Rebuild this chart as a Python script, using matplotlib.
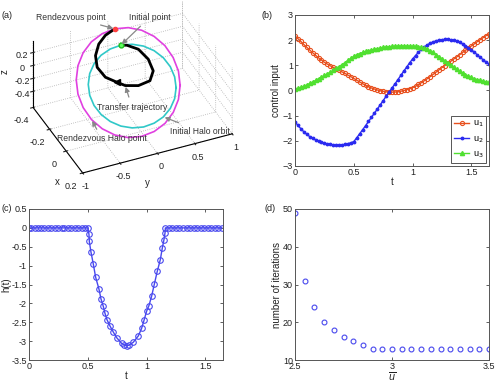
import matplotlib
matplotlib.use("Agg")
import matplotlib.pyplot as plt
from mpl_toolkits.mplot3d import proj3d

plt.rcParams['font.family'] = ['Liberation Sans', 'DejaVu Sans']
plt.rcParams['font.size'] = 7
plt.rcParams['grid.linestyle'] = ':'
plt.rcParams['grid.color'] = '#b0b0b0'
plt.rcParams['grid.linewidth'] = 0.6

# ---- (a) orbits in 3D (x, y, z) ----
# rendezvous halo orbit (magenta)
rdv_x = [-0.115, -0.057, -0.004, 0.041, 0.074, 0.094, 0.099, 0.089, 0.064, 0.027, -0.022, -0.077,
         -0.135, -0.193, -0.246, -0.291, -0.324, -0.344, -0.349, -0.339, -0.314, -0.277, -0.229,
         -0.173, -0.115]
rdv_y = [0.652, 0.565, 0.437, 0.277, 0.096, -0.094, -0.280, -0.448, -0.588, -0.691, -0.748, -0.757,
         -0.716, -0.629, -0.501, -0.341, -0.160, 0.030, 0.216, 0.384, 0.524, 0.627, 0.684,
         0.693, 0.652]
rdv_z = [-0.326, -0.421, -0.493, -0.538, -0.553, -0.537, -0.491, -0.417, -0.321, -0.210, -0.091, 0.027,
         0.138, 0.233, 0.305, 0.350, 0.365, 0.349, 0.303, 0.229, 0.133, 0.022, -0.097,
         -0.215, -0.326]

# initial halo orbit (cyan)
ini_x = [-0.113, -0.059, -0.010, 0.032, 0.063, 0.082, 0.087, 0.078, 0.056, 0.021, -0.023, -0.073,
         -0.127, -0.181, -0.230, -0.272, -0.303, -0.322, -0.327, -0.318, -0.296, -0.261, -0.217,
         -0.167, -0.113]
ini_y = [0.596, 0.517, 0.404, 0.265, 0.108, -0.055, -0.213, -0.355, -0.472, -0.556, -0.601, -0.604,
         -0.564, -0.485, -0.372, -0.233, -0.076, 0.087, 0.245, 0.387, 0.504, 0.588, 0.633,
         0.636, 0.596]
ini_z = [-0.343, -0.396, -0.432, -0.449, -0.446, -0.424, -0.382, -0.326, -0.257, -0.182, -0.105, -0.031,
         0.035, 0.088, 0.124, 0.141, 0.138, 0.116, 0.074, 0.018, -0.051, -0.126, -0.204,
         -0.278, -0.343]

# transfer trajectory (black), initial point -> rendezvous point
tr_x = [-0.322, -0.320, -0.290, -0.240, -0.190, -0.150, -0.130, -0.130, -0.140, -0.170,
        -0.210, -0.260, -0.300, -0.330, -0.344]
tr_y = [0.087, 0.166, 0.287, 0.364, 0.375, 0.287, 0.110, -0.066, -0.165, -0.287,
        -0.353, -0.320, -0.232, -0.110, 0.030]
tr_z = [0.116, 0.095, 0.047, -0.046, -0.145, -0.204, -0.192, -0.138, -0.074, -0.010,
        0.096, 0.182, 0.267, 0.315, 0.349]

# ---- (b) control inputs ----
t_b = [0.0, 0.025, 0.05, 0.075, 0.1, 0.125, 0.15, 0.175, 0.2, 0.225, 0.25, 0.275,
       0.3, 0.325, 0.35, 0.375, 0.4, 0.425, 0.45, 0.475, 0.5, 0.525, 0.55, 0.575,
       0.6, 0.625, 0.65, 0.675, 0.7, 0.725, 0.75, 0.775, 0.8, 0.825, 0.85, 0.875,
       0.9, 0.925, 0.95, 0.975, 1.0, 1.025, 1.05, 1.075, 1.1, 1.125, 1.15, 1.175,
       1.2, 1.225, 1.25, 1.275, 1.3, 1.325, 1.35, 1.375, 1.4, 1.425, 1.45, 1.475,
       1.5, 1.525, 1.55, 1.575, 1.6, 1.625, 1.65]
u1 = [2.17, 2.06, 1.95, 1.83, 1.72, 1.61, 1.50, 1.40, 1.30, 1.21, 1.12, 1.05,
      0.98, 0.92, 0.86, 0.80, 0.74, 0.68, 0.61, 0.55, 0.48, 0.41, 0.34, 0.27,
      0.21, 0.15, 0.10, 0.06, 0.02, -0.01, -0.03, -0.05, -0.06, -0.065, -0.06, -0.05,
      -0.03, 0.00, 0.03, 0.07, 0.11, 0.17, 0.24, 0.31, 0.39, 0.47, 0.55, 0.64,
      0.73, 0.82, 0.91, 0.99, 1.08, 1.16, 1.25, 1.33, 1.42, 1.51, 1.60, 1.68,
      1.77, 1.85, 1.94, 2.02, 2.10, 2.18, 2.25]
u2 = [-1.24, -1.39, -1.52, -1.64, -1.74, -1.83, -1.90, -1.96, -2.01, -2.05, -2.09, -2.12,
      -2.14, -2.16, -2.17, -2.17, -2.16, -2.14, -2.11, -2.08, -2.03, -1.88, -1.72, -1.56,
      -1.40, -1.23, -1.07, -0.90, -0.74, -0.57, -0.40, -0.23, -0.07, 0.10, 0.26, 0.43,
      0.60, 0.77, 0.93, 1.10, 1.25, 1.39, 1.52, 1.63, 1.73, 1.81, 1.88, 1.93,
      1.97, 2.00, 2.02, 2.03, 2.03, 2.01, 1.99, 1.95, 1.91, 1.85, 1.78, 1.70,
      1.61, 1.52, 1.42, 1.32, 1.22, 1.13, 1.05]
u3 = [0.05, 0.08, 0.12, 0.17, 0.22, 0.28, 0.34, 0.40, 0.47, 0.53, 0.60, 0.66,
      0.73, 0.80, 0.88, 0.95, 1.03, 1.11, 1.20, 1.28, 1.36, 1.42, 1.47, 1.51,
      1.55, 1.58, 1.61, 1.64, 1.66, 1.69, 1.71, 1.73, 1.74, 1.75, 1.76, 1.77,
      1.77, 1.77, 1.77, 1.77, 1.76, 1.75, 1.73, 1.71, 1.68, 1.64, 1.58, 1.51,
      1.43, 1.35, 1.26, 1.18, 1.09, 1.00, 0.92, 0.84, 0.77, 0.70, 0.63, 0.57,
      0.52, 0.47, 0.43, 0.40, 0.37, 0.34, 0.32]

# ---- (c) h(t) ----
t_c = [0.0, 0.02, 0.05, 0.08, 0.1, 0.13, 0.16, 0.19, 0.22, 0.25, 0.28, 0.3, 0.33, 0.36,
       0.39, 0.42, 0.45, 0.48, 0.5, 0.51, 0.513, 0.527, 0.547, 0.567, 0.595, 0.612, 0.632,
       0.645, 0.663, 0.689, 0.717, 0.746, 0.788, 0.81, 0.83, 0.85, 0.887, 0.93, 0.958,
       0.98, 1.0, 1.02, 1.043, 1.066, 1.091, 1.117, 1.134, 1.148, 1.157, 1.16, 1.19, 1.22,
       1.25, 1.28, 1.31, 1.34, 1.37, 1.4, 1.43, 1.46, 1.49, 1.52, 1.55, 1.58, 1.61, 1.64]
h_c = [0, 0, 0, 0, 0, 0, 0, 0, 0, 0, 0, 0, 0, 0, 0, 0, 0, 0, 0, -0.17, -0.36, -0.64,
       -0.96, -1.31, -1.62, -1.88, -2.08, -2.25, -2.43, -2.60, -2.76, -2.91, -3.06, -3.10,
       -3.12, -3.11, -3.03, -2.86, -2.66, -2.43, -2.21, -2.06, -1.81, -1.49, -1.15, -0.84,
       -0.53, -0.31, -0.13, 0, 0, 0, 0, 0, 0, 0, 0, 0, 0, 0, 0, 0, 0, 0, 0, 0]

# ---- (d) iterations ----
ubar = [2.5, 2.55, 2.6, 2.65, 2.7, 2.75, 2.8, 2.85, 2.9, 2.95, 3.0, 3.05, 3.1, 3.15,
        3.2, 3.25, 3.3, 3.35, 3.4, 3.45, 3.5]
n_iter = [49, 31, 24, 20, 18, 16, 15, 14, 13, 13, 13, 13, 13, 13, 13, 13, 13, 13, 13, 13, 13]

W, H = 498, 383
fig = plt.figure(figsize=(W / 100, H / 100), dpi=100)
txt = '#222222'
tsize = 6.5


def rect(l, t, r, b):
    return [l / W, 1 - b / H, (r - l) / W, (b - t) / H]


def fpos(px, py):
    return px / W, 1 - py / H


def matlab_style(ax):
    ax.tick_params(direction='in', top=True, right=True, length=2.5, width=0.6,
                   labelsize=tsize, colors='#444444', labelcolor=txt, pad=1.5)
    for s in ax.spines.values():
        s.set_color('#555555')
        s.set_linewidth(0.7)


# (a)
ax = fig.add_axes(rect(0, -8, 260, 188), projection='3d')
ax.set_proj_type('ortho')
ax.view_init(elev=36, azim=-24)
ax.set_box_aspect((123, 165, 83), zoom=1.09)
ax.set_xlim(-0.4, 0.2)
ax.set_ylim(-1, 1)
ax.set_zlim(-0.65, 0.38)
ax.set_xticks([-0.4, -0.2, 0, 0.2])
ax.set_yticks([-1, -0.5, 0, 0.5, 1])
ax.set_zticks([-0.4, -0.2, 0, 0.2])
ax.set_xticklabels(['-0.4', '-0.2', '0', '0.2'])
ax.set_yticklabels(['-1', '-0.5', '0', '0.5', '1'])
ax.set_zticklabels(['-0.4', '-0.2', '0', '0.2'])
ax.zaxis.set_ticks_position('lower')
for a in (ax.xaxis, ax.yaxis, ax.zaxis):
    a.pane.fill = False
    a.pane.set_edgecolor((1, 1, 1, 0))
    a.line.set_color('black')
    a.line.set_linewidth(0.8)
ax.tick_params(labelsize=tsize, colors=txt)
ax.tick_params(axis='x', pad=-2)
ax.tick_params(axis='y', pad=-3)
ax.tick_params(axis='z', pad=-4)
ax.plot(rdv_x, rdv_y, rdv_z, color='#e040e0', lw=1.2)
ax.plot(ini_x, ini_y, ini_z, color='#30c8c8', lw=1.2)
ax.plot(tr_x, tr_y, tr_z, color='black', lw=2)
ax.plot([tr_x[8]], [tr_y[8]], [tr_z[8]], marker='<', color='black', ms=5)
ax.plot([tr_x[-1]], [tr_y[-1]], [tr_z[-1]], 'o', color='#ff4040', ms=3)
ax.plot([tr_x[0]], [tr_y[0]], [tr_z[0]], 'o', mfc='#60ff60', mec='#20c020', ms=3.5)

# axis names
fig.text(*fpos(57, 182), 'x', fontsize=7, color=txt, ha='center', va='center')
fig.text(*fpos(147, 183), 'y', fontsize=7, color=txt, ha='center', va='center')
fig.text(*fpos(5, 72), 'z', fontsize=7, color=txt, ha='center', va='center', rotation=90)

M = ax.get_proj()


def p2(x, y, z):
    a, b, _ = proj3d.proj_transform(x, y, z, M)
    return a, b


arrow = dict(arrowstyle='-|>', color='#888888', lw=0.9, mutation_scale=7, shrinkB=1)
notes = [
    ('Rendezvous point', (tr_x[-1], tr_y[-1], tr_z[-1]), (71, 17)),
    ('Initial point', (tr_x[0], tr_y[0], tr_z[0]), (150, 17)),
    ('Transfer trajectory', (tr_x[7], tr_y[7], tr_z[7]), (132, 107)),
    ('Initial Halo orbit', (ini_x[3], ini_y[3], ini_z[3]), (200, 131)),
    ('Rendezvous Halo point', (rdv_x[9], rdv_y[9], rdv_z[9]), (102, 139)),
]
for label, pt, (px, py) in notes:
    ax.annotate(label, xy=p2(*pt), xycoords='data',
                xytext=fpos(px, py), textcoords='figure fraction',
                ha='center', va='center', fontsize=6.2, color='#333333',
                arrowprops=arrow)

# (b)
ax = fig.add_axes(rect(295, 15, 489, 166))
ax.plot(t_b, u1, '-o', color='#e8501e', ms=3, mfc='none', mew=0.8, lw=1, label='u$_1$')
ax.plot(t_b, u2, '-', marker='.', color='#2a2af0', ms=3.5, lw=1, label='u$_2$')
ax.plot(t_b, u3, '-^', color='#50e030', ms=3, lw=1, label='u$_3$')
ax.set_xlim(0, 1.65)
ax.set_ylim(-3, 3)
ax.set_xticks([0, 0.5, 1, 1.5])
ax.set_xticklabels(['0', '0.5', '1', '1.5'])
ax.set_yticks(range(-3, 4))
ax.set_xlabel('t', labelpad=0, color=txt)
ax.set_ylabel('control input', labelpad=1, color=txt)
matlab_style(ax)
leg = ax.legend(loc='lower right', fontsize=6.5, handlelength=1.6, borderpad=0.35,
                labelspacing=0.55, handletextpad=0.4, borderaxespad=0.3,
                fancybox=False, framealpha=1, edgecolor='#555555')
leg.get_frame().set_linewidth(0.7)

# (c)
ax = fig.add_axes(rect(29, 209, 223, 360))
ax.plot(t_c, h_c, '-o', color='#4848ee', ms=4, mfc='none', mew=0.8, lw=1)
ax.set_xlim(0, 1.65)
ax.set_ylim(-3.5, 0.5)
ax.set_xticks([0, 0.5, 1, 1.5])
ax.set_xticklabels(['0', '0.5', '1', '1.5'])
ax.set_yticks([-3.5, -3, -2.5, -2, -1.5, -1, -0.5, 0, 0.5])
ax.set_yticklabels(['-3.5', '-3', '-2.5', '-2', '-1.5', '-1', '-0.5', '0', '0.5'])
ax.set_xlabel('t', labelpad=0, color=txt)
ax.set_ylabel('h(t)', labelpad=0, color=txt)
matlab_style(ax)

# (d)
ax = fig.add_axes(rect(295, 209, 489, 360))
ax.plot(ubar, n_iter, 'o', color='#4848ee', ms=3.5, mfc='none', mew=0.8)
ax.set_xlim(2.5, 3.5)
ax.set_ylim(10, 50)
ax.set_xticks([2.5, 3, 3.5])
ax.set_xticklabels(['2.5', '3', '3.5'])
ax.set_yticks([10, 20, 30, 40, 50])
ax.set_xlabel(r'$\overline{u}$', labelpad=-1, color=txt, fontsize=7)
ax.set_ylabel('number of iterations', labelpad=1, color=txt)
matlab_style(ax)

for lab, (px, py) in [('(a)', (2, 15)), ('(b)', (261, 15)), ('(c)', (2, 209)), ('(d)', (264, 209))]:
    fig.text(*fpos(px, py), lab, fontsize=6.5, color=txt, va='center', ha='left')

fig.savefig('out.png', dpi=100)
